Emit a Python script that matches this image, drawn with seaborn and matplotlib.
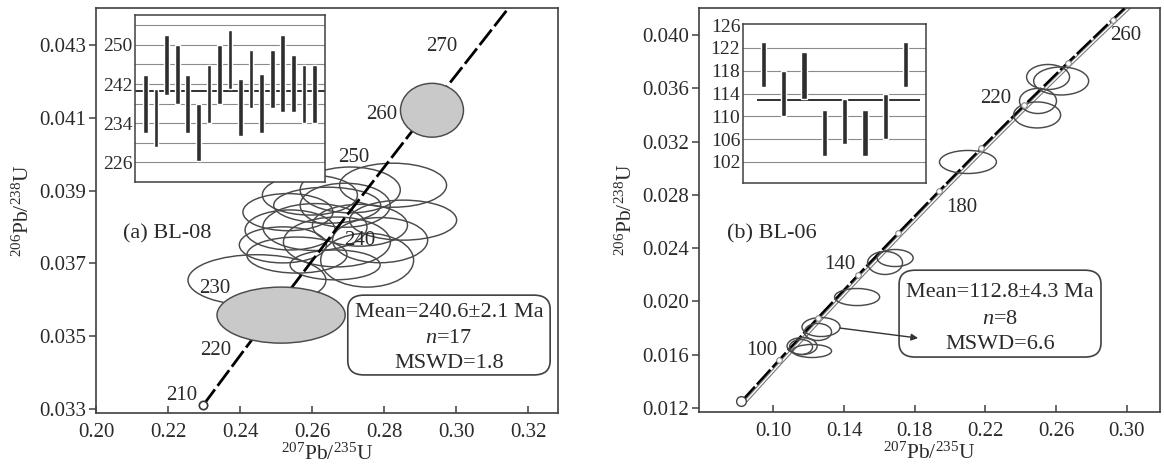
import matplotlib
matplotlib.use("Agg")
import matplotlib.pyplot as plt
import matplotlib.transforms as mtransforms
from matplotlib.patches import Ellipse, FancyBboxPatch
import numpy as np
import seaborn as sns

# ---------------- data ----------------
# concordia ticks (age Ma, 207Pb/235U, 206Pb/238U)
conc_age_a = [210, 220, 230, 240, 250, 260, 270, 280]
conc_x_a = [0.2298, 0.2419, 0.2542, 0.2666, 0.2792, 0.2919, 0.3047, 0.3175]
conc_y_a = [0.03311, 0.03472, 0.03632, 0.03793, 0.03954, 0.04116, 0.04277, 0.04439]

conc_age_b = [80, 100, 120, 140, 160, 180, 200, 220, 240, 260, 280]
conc_x_b = [0.0820, 0.1035, 0.1254, 0.1478, 0.1707, 0.1940, 0.2177, 0.2419, 0.2666, 0.2919, 0.3175]
conc_y_b = [0.01249, 0.01563, 0.01879, 0.02196, 0.02513, 0.02832, 0.03151, 0.03472, 0.03793, 0.04116, 0.04439]

# age label text spots
lab_a = ["210", "220", "230", "240", "250", "260", "270"]
lab_a_x = [0.2239, 0.2333, 0.2331, 0.2733, 0.2717, 0.2792, 0.2961]
lab_a_y = [0.03338, 0.03462, 0.03630, 0.03764, 0.03992, 0.04108, 0.04295]

lab_b = ["100", "140", "180", "220", "260"]
lab_b_x = [0.0936, 0.1377, 0.2068, 0.2260, 0.2995]
lab_b_y = [0.01635, 0.02274, 0.02709, 0.03520, 0.03993]

# error ellipses BL-08 (centre x, centre y, width, height)
ell_a_x = [0.2447, 0.2533, 0.2519, 0.2642, 0.2692, 0.2669, 0.2753, 0.2558,
           0.2825, 0.2706, 0.2853, 0.2608, 0.2664, 0.2789, 0.2733, 0.2594, 0.2539]
ell_a_y = [0.03654, 0.03841, 0.03751, 0.03860, 0.03860, 0.03759, 0.03709, 0.03723,
           0.03915, 0.03902, 0.03819, 0.03800, 0.03696, 0.03764, 0.03805, 0.03888, 0.03792]
ell_a_w = [0.0383, 0.0250, 0.0242, 0.0297, 0.0250, 0.0297, 0.0258, 0.0278,
           0.0297, 0.0278, 0.0297, 0.0289, 0.0250, 0.0264, 0.0264, 0.0264, 0.0250]
ell_a_h = [0.00140, 0.00102, 0.00099, 0.00099, 0.00121, 0.00137, 0.00148, 0.00099,
           0.00121, 0.00126, 0.00110, 0.00129, 0.00082, 0.00124, 0.00115, 0.00110, 0.00110]
grey_a_x = [0.2514, 0.2933]
grey_a_y = [0.03558, 0.04121]
grey_a_w = [0.0356, 0.0175]
grey_a_h = [0.00154, 0.00148]

# error ellipses BL-06
ell_b_x = [0.2554, 0.2628, 0.2497, 0.2492, 0.2101, 0.1632, 0.1689, 0.1474,
           0.1270, 0.1253, 0.1163, 0.1219, 0.1157]
ell_b_y = [0.03685, 0.03655, 0.03505, 0.03400, 0.03047, 0.02289, 0.02326, 0.02033,
           0.01808, 0.01771, 0.01665, 0.01628, 0.01658]
ell_b_w = [0.0243, 0.0311, 0.0209, 0.0266, 0.0322, 0.0198, 0.0204, 0.0255,
           0.0215, 0.0153, 0.0170, 0.0221, 0.0130]
ell_b_h = [0.00188, 0.00210, 0.00188, 0.00195, 0.00173, 0.00173, 0.00128, 0.00128,
           0.00143, 0.00128, 0.00128, 0.00098, 0.00113]

# weighted mean insets (age bars, Ma)
bar_a_hi = [243.9, 240.9, 252.0, 250.0, 243.9, 238.0, 245.9, 250.0, 253.1,
            243.0, 249.0, 244.1, 249.0, 252.0, 248.0, 245.9, 245.9]
bar_a_lo = [232.0, 229.2, 239.8, 238.0, 232.0, 226.2, 234.1, 238.0, 240.9,
            231.3, 237.1, 232.1, 237.1, 236.2, 236.2, 234.1, 234.1]
mean_a = 240.6
bar_b_hi = [123.1, 118.0, 121.2, 111.1, 113.0, 111.1, 114.0, 123.1]
bar_b_lo = [115.1, 110.1, 113.0, 103.1, 105.1, 103.1, 106.1, 115.1]
mean_b = 112.8

# ---------------- style ----------------
sns.set_theme(style="ticks")
plt.rcParams["font.family"] = ["Liberation Serif", "DejaVu Serif"]
plt.rcParams["mathtext.fontset"] = "custom"
plt.rcParams["mathtext.rm"] = "Liberation Serif"
plt.rcParams["mathtext.it"] = "Liberation Serif:italic"
plt.rcParams["mathtext.default"] = "regular"

ink = "#2a2a2a"
edge = "#4a4a4a"

fig = plt.figure(figsize=(11.64, 4.72), dpi=100)
ax_a = fig.add_axes([96 / 1164, 1 - 413 / 472, 462 / 1164, 405 / 472])
ax_b = fig.add_axes([699 / 1164, 1 - 412 / 472, 461 / 1164, 404 / 472])


def style_main(ax):
    for s in ax.spines.values():
        s.set_color("#404040")
        s.set_linewidth(1.2)
    ax.tick_params(axis="y", direction="out", length=5, width=1.1, color="#404040",
                   labelsize=15, labelcolor=ink, pad=2)
    ax.tick_params(axis="x", direction="in", length=5, width=1.1, color="#404040",
                   labelsize=15, labelcolor=ink, pad=7)
    ax.set_xlabel(r"$^{207}$Pb/$^{235}$U", fontsize=15.5, color=ink, labelpad=1)
    ax.set_ylabel(r"$^{206}$Pb/$^{238}$U", fontsize=15.5, color=ink, labelpad=4)
    ax.grid(False)


def add_ellipses(ax, xs, ys, ws, hs, fill=None, z=2):
    for x, y, w, h in zip(xs, ys, ws, hs):
        ax.add_patch(Ellipse((x, y), w, h, facecolor=fill if fill else "none",
                             edgecolor=edge, lw=1.05, zorder=z))


def add_box(ax, x0, y0, x1, y1, lines, ys, cx):
    ax.add_patch(FancyBboxPatch((x0, y0), x1 - x0, y1 - y0,
                                boxstyle="round,pad=0,rounding_size=0.035",
                                transform=ax.transAxes, facecolor="white",
                                edgecolor="#404040", lw=1.2, zorder=6))
    for t, y in zip(lines, ys):
        ax.text(cx, y, t, transform=ax.transAxes, ha="center", va="center",
                fontsize=16, color=ink, zorder=7)


# ---------------- panel (a) ----------------
style_main(ax_a)
ax_a.set_xlim(0.200, 0.3283)
ax_a.set_ylim(0.03289, 0.04402)
ax_a.set_xticks(np.round(np.arange(0.20, 0.321, 0.02), 2))
ax_a.set_xticklabels([f"{v:.2f}" for v in np.arange(0.20, 0.321, 0.02)])
ax_a.set_yticks(np.round(np.arange(0.033, 0.0431, 0.002), 3))
ax_a.set_yticklabels([f"{v:.3f}" for v in np.arange(0.033, 0.0431, 0.002)])

add_ellipses(ax_a, ell_a_x, ell_a_y, ell_a_w, ell_a_h, z=2)
sns.lineplot(x=conc_x_a, y=conc_y_a, sort=False, estimator=None, color="black",
             lw=2.0, ax=ax_a, zorder=3)
ax_a.lines[-1].set_linestyle((0, (7, 1.6)))
ax_a.plot(conc_x_a[:1], conc_y_a[:1], "o", ms=6, mfc="white", mec="#333333",
          mew=1.2, zorder=4, clip_on=False)
add_ellipses(ax_a, grey_a_x, grey_a_y, grey_a_w, grey_a_h, fill="#c9c9c9", z=4)
for t, x, y in zip(lab_a, lab_a_x, lab_a_y):
    ax_a.text(x, y, t, ha="center", va="center", fontsize=15, color=ink, zorder=5)
ax_a.text(0.154, 0.442, "(a) BL-08", transform=ax_a.transAxes, ha="center",
          va="center", fontsize=16, color=ink)
add_box(ax_a, 0.545, 0.094, 0.983, 0.291,
        ["Mean=240.6\u00b12.1 Ma", r"$\mathit{n}$=17", "MSWD=1.8"],
        [0.247, 0.185, 0.123], 0.764)

# ---------------- panel (b) ----------------
style_main(ax_b)
ax_b.set_xlim(0.058, 0.3187)
ax_b.set_ylim(0.0117, 0.04203)
ax_b.set_xticks(np.round(np.arange(0.10, 0.301, 0.04), 2))
ax_b.set_xticklabels([f"{v:.2f}" for v in np.arange(0.10, 0.301, 0.04)])
ax_b.set_yticks(np.round(np.arange(0.012, 0.0401, 0.004), 3))
ax_b.set_yticklabels([f"{v:.3f}" for v in np.arange(0.012, 0.0401, 0.004)])

shift = ax_b.transData + mtransforms.ScaledTranslation(4 / 100, 0, fig.dpi_scale_trans)
ax_b.plot(conc_x_b, conc_y_b, color="#777777", lw=2.6, transform=shift, zorder=2)
ax_b.plot(conc_x_b, conc_y_b, color="white", lw=1.0, transform=shift, zorder=2)
sns.lineplot(x=conc_x_b, y=conc_y_b, sort=False, estimator=None, color="black",
             lw=1.8, ax=ax_b, zorder=3)
ax_b.lines[-1].set_linestyle((0, (8, 1.2)))
add_ellipses(ax_b, ell_b_x, ell_b_y, ell_b_w, ell_b_h, z=4)
ax_b.plot(conc_x_b[1:], conc_y_b[1:], "o", ms=4, mfc="white", mec="#888888",
          mew=0.8, zorder=4)
ax_b.plot(conc_x_b[:1], conc_y_b[:1], "o", ms=7, mfc="white", mec="#444444",
          mew=1.0, zorder=4, clip_on=False)
for t, x, y in zip(lab_b, lab_b_x, lab_b_y):
    ax_b.text(x, y, t, ha="center", va="center", fontsize=15, color=ink, zorder=5)
ax_b.text(0.158, 0.441, "(b) BL-06", transform=ax_b.transAxes, ha="center",
          va="center", fontsize=16, color=ink)
add_box(ax_b, 0.434, 0.136, 0.872, 0.351,
        ["Mean=112.8\u00b14.3 Ma", r"$\mathit{n}$=8", "MSWD=6.6"],
        [0.295, 0.228, 0.166], 0.653)
ax_b.annotate("", xy=(0.1819, 0.01725), xytext=(0.1378, 0.0180),
              arrowprops=dict(arrowstyle="-|>", color="#333333", lw=1.0,
                              mutation_scale=10, shrinkA=0, shrinkB=0), zorder=8)

# ---------------- insets ----------------
ins_a = fig.add_axes([135 / 1164, 1 - 182 / 472, 190 / 1164, 167 / 472])
ins_b = fig.add_axes([743 / 1164, 1 - 183 / 472, 183 / 1164, 159 / 472])


def style_inset(ins, ylim, major, minor, lab_size):
    ins.set_facecolor("white")
    ins.set_ylim(*ylim)
    ins.set_yticks(major)
    ins.set_yticks(minor, minor=True)
    ins.set_xticks([])
    ins.grid(False)
    for v in minor:
        ins.axhline(v, color="#8a8a8a", lw=0.8, zorder=1)
    ins.tick_params(axis="y", which="both", length=0, labelsize=lab_size,
                    labelcolor=ink, pad=2)
    for s in ins.spines.values():
        s.set_color("#404040")
        s.set_linewidth(1.1)


pos_a = np.arange(1, len(bar_a_hi) + 1)
ins_a.set_xlim(0, len(bar_a_hi) + 1)
style_inset(ins_a, (222.0, 256.1), [226, 234, 242, 250],
            list(range(226, 255, 4)), 14)
ins_a.axhline(mean_a, color="#303030", lw=1.4, zorder=2)
ins_a.bar(pos_a, np.array(bar_a_hi) - np.array(bar_a_lo), bottom=bar_a_lo,
          width=0.45, color="#2e2e2e", zorder=3)

pos_b = np.arange(1, len(bar_b_hi) + 1)
ins_b.set_xlim(0, len(bar_b_hi) + 1)
style_inset(ins_b, (98.3, 126.2), list(range(102, 127, 4)),
            list(range(102, 123, 4)), 14)
ins_b.hlines(mean_b, 0.7, 8.7, color="#303030", lw=1.4, zorder=2)
ins_b.bar(pos_b, np.array(bar_b_hi) - np.array(bar_b_lo), bottom=bar_b_lo,
          width=0.26, color="#2e2e2e", zorder=3)

fig.savefig("out.png", dpi=100)
